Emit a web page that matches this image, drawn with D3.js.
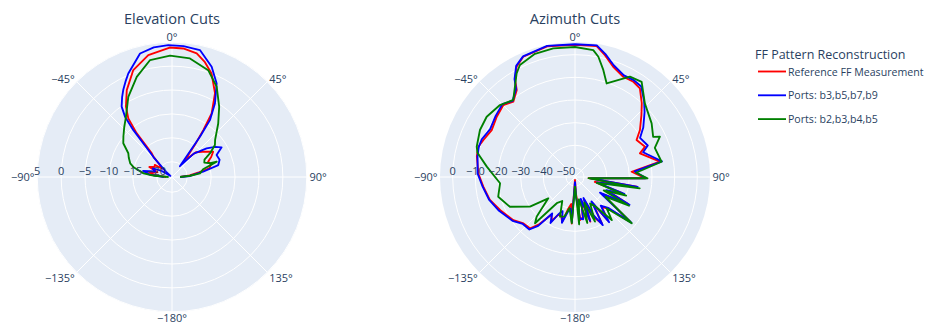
<!DOCTYPE html>
<html>
<head>
<meta charset="utf-8">
<script src="https://cdn.jsdelivr.net/npm/d3@7"></script>
<style>
  html, body { margin: 0; padding: 0; background: #fff; }
  svg { display: block; font-family: "Open Sans", verdana, arial, sans-serif; }
</style>
</head>
<body>
<svg id="chart" width="925" height="327"></svg>
<script>
// ---- series meta ----
const seriesNames  = ["Reference FF Measurement", "Ports: b3,b5,b7,b9", "Ports: b2,b3,b4,b5"];
const seriesColors = ["red", "blue", "green"];
const legendTitle  = "FF Pattern Reconstruction";

// ---- elevation cut, [theta deg, gain dB] ----
const elevReference = [
  [-90,-22.0],[-84,-19.5],[-78,-18.3],[-72,-20.0],[-66,-18.0],[-60,-19.0],[-55,-18.8],[-50,-20.5],
  [-45,-19.5],[-42.5,-17.5],[-40.6,-16.7],[-38.9,-11.4],[-36.7,-7.9],[-33.2,-5.6],[-27.5,-2.7],
  [-19.9,0.6],[-11,2.8],[-1,3.9],[5,3.8],[11.3,3.2],[16,1.8],[20.9,0],[27.2,-3.5],[31.9,-7.5],
  [33.7,-11.4],[35.5,-15],[37.4,-18.7],[44,-16.0],[52.5,-14.5],[58.5,-13.1],[63,-14],[67,-15],
  [72,-14.6],[77,-15.2],[80,-17.5],[85,-19.5],[90,-21.5]
];
const elevPortsA = [
  [-90,-21.5],[-84,-18.5],[-78,-17.0],[-72,-19.5],[-66,-18.8],[-60,-20.5],[-54,-22.8],[-48,-21.5],
  [-45,-20.0],[-43,-17.5],[-41.3,-15.7],[-39.5,-10.5],[-37.9,-7.2],[-35.6,-5.1],[-32,-3.5],
  [-29.2,-2.3],[-26,-1.0],[-22.9,0.3],[-18,2.0],[-14.5,3.5],[-8,4.2],[-1.6,4.4],[5,4.3],[12.4,4.0],
  [19.8,1.3],[25.5,-1.5],[30.3,-5.4],[33.7,-8.9],[34.8,-12.9],[36,-20.4],[43,-16.5],[50.4,-13.8],
  [55,-12.2],[59.1,-11.1],[63.8,-12.8],[70,-12.6],[75.5,-13.2],[80.4,-16.6],[86.8,-19.4],[90,-21.5]
];
const elevPortsB = [
  [-90,-22.5],[-86,-19.5],[-82.7,-17.2],[-76,-15],[-71.9,-14],[-66,-13.3],[-61.5,-12.8],[-55.3,-10.8],
  [-50.4,-10],[-44,-8.8],[-37.3,-7.3],[-28.6,-4.1],[-19.4,-1],[-10.6,1.7],[-0.9,2.2],[8.6,1.9],
  [18.7,0.4],[26.3,-2.1],[33.9,-5.5],[40.8,-8.4],[49.3,-11.3],[53.3,-12],[58,-13.8],[62,-15.5],
  [66,-15.8],[70.2,-14.7],[71.1,-13.3],[76,-16.5],[82.5,-17.3],[86,-19.4],[90,-21.5]
];

// ---- azimuth cut, [theta deg, gain dB] ----
const azimReference = [
  [-180,-53],[-176,-33.4],[-172,-42],[-168,-39.7],[-164,-33.4],[-160,-36],[-156,-35.7],[-152,-32],
  [-148,-34.5],[-143,-28],[-139,-23.9],[-132,-23.4],[-125,-20.8],[-114,-17.9],[-105,-15.1],[-96,-13.3],
  [-88,-11.3],[-78,-9.7],[-72.6,-9.3],[-68,-10.4],[-60.6,-11.8],[-52.4,-10.4],[-44.9,-9.2],[-39.3,-11],
  [-33.8,-7.8],[-31.7,-3.7],[-27.9,1.1],[-23.3,3.8],[-12,5.0],[0,4.3],[9.4,4.6],[13.8,1.4],[19.1,-2.5],
  [25.7,-4.9],[31.5,-4.7],[36.2,-5.5],[42.2,-10.1],[47,-13.9],[54.1,-18.6],[59,-22.3],[66.6,-20.3],
  [70,-23.5],[79.8,-15.9],[84.7,-28.9],[91,-23],[95,-48],[99,-26.5],[104,-45],[109,-32],[113,-38],
  [117,-27.7],[122,-40],[129,-22.7],[133,-32.8],[138,-36.4],[143,-30],[146,-39.9],[150,-30.3],
  [154,-33.7],[158,-43],[161,-33.2],[165,-43],[169,-36],[173,-34.9],[177,-47],[180,-53]
];
const azimPortsA = [
  [-180,-52],[-176,-34],[-172,-40],[-168,-38],[-164,-33],[-160,-38],[-156,-36],[-152,-31],
  [-148,-35],[-143,-27],[-139,-23.3],[-132,-23.0],[-125,-20.3],[-114,-17.3],[-105,-14.8],[-96,-13.0],
  [-88,-11.0],[-78,-10.0],[-72.6,-9.5],[-68,-9.6],[-60.6,-11.0],[-52.4,-9.8],[-44.9,-8.6],[-39.3,-10.5],
  [-33.8,-7.2],[-31.7,-3.2],[-27.9,1.5],[-23.3,4.0],[-12,5.2],[0,4.6],[9.4,4.9],[13.8,2.0],[19.1,-1.8],
  [25.7,-4.2],[31.5,-4.0],[36.2,-4.5],[42.2,-8.6],[47,-12.0],[54.1,-16.8],[59,-20.5],[66.6,-19.0],
  [70,-22.0],[79.8,-15.0],[84.7,-27.5],[91,-22.5],[95,-47],[99,-26],[104,-44],[109,-31],[113,-39],
  [117,-27],[122,-41],[129,-22],[133,-34],[138,-37],[143,-29],[146,-41],[150,-29.5],[154,-35],
  [158,-44],[161,-33.5],[165,-44],[169,-35],[173,-35.5],[177,-45],[180,-52]
];
const azimPortsB = [
  [-180,-50],[-176,-33.6],[-170,-40],[-165,-36],[-159.3,-35.3],[-152,-42],[-145.2,-39.9],[-139.2,-27],
  [-136,-29.6],[-128.6,-38.9],[-123.4,-30.2],[-114.6,-22.4],[-104.4,-19],[-94.8,-20.8],[-83.3,-14.8],
  [-76,-9.6],[-72.9,-8.6],[-63.7,-7.2],[-55.7,-6.8],[-46.2,-8.1],[-38.7,-10.4],[-33,-5.5],[-29.4,-1.5],
  [-26.2,1.1],[-18,3.2],[-9.6,3.6],[0,3.4],[8.2,2.6],[11,0.1],[14.8,-5.1],[18.7,-10.4],[28.7,-3.5],
  [35,-2.7],[43.5,-9.2],[55,-12.7],[62.8,-15.2],[64.6,-12.5],[70,-16.5],[80,-15.2],[86,-27],[91,-22],
  [95,-48],[100,-25],[105,-44],[110,-30],[115,-40],[118,-27],[123,-38],[129.2,-21.7],[134.6,-34.4],
  [139.5,-29],[145,-38],[150.3,-40.6],[155.9,-32.4],[160,-42],[165,-33],[170,-44],[175,-33],[180,-50]
];

// ---- axes ----
const elevRadialRange = [-23.2, 5.05];
const azimRadialRange = [-54, 5.6];
const elevRadialTicks = [-20, -15, -10, -5, 0, 5];
const azimRadialTicks = [-50, -40, -30, -20, -10, 0];
const angularTicks    = [0, 45, 90, 135, 180, 225, 270, 315];
const angularLabels   = ["0°", "45°", "90°", "135°", "−180°", "−135°", "−90°", "−45°"];

const textColor = "#2a3f5f";
const svg = d3.select("#chart");

function fmt(v) { return v < 0 ? "−" + Math.abs(v) : String(v); }

function drawPolar(opts) {
  const { cx, cy, R, range, ticks, title, traces } = opts;
  const g = svg.append("g").attr("transform", `translate(${cx},${cy})`);
  const r = d3.scaleLinear().domain(range).range([0, R]);
  const rad = a => a * Math.PI / 180;
  const fs = 11;

  g.append("circle").attr("r", R).attr("fill", "#E5ECF6");

  // radial grid circles
  g.selectAll("circle.grid").data(ticks.filter(t => r(t) > 0 && r(t) <= R)).join("circle")
    .attr("class", "grid").attr("r", d => r(d))
    .attr("fill", "none").attr("stroke", "#fff").attr("stroke-width", 1);

  // angular grid lines
  g.selectAll("line.spoke").data(angularTicks).join("line")
    .attr("class", "spoke")
    .attr("x1", 0).attr("y1", 0)
    .attr("x2", d => R * Math.sin(rad(d)))
    .attr("y2", d => -R * Math.cos(rad(d)))
    .attr("stroke", "#fff").attr("stroke-width", 1);

  // angular tick labels just outside the rim
  g.selectAll("text.ang").data(angularTicks).join("text")
    .attr("class", "ang")
    .attr("x", d => (R + 2.5) * Math.sin(rad(d)))
    .attr("y", d => {
      const c = Math.cos(rad(d));
      const ff = c > 0 ? 0.2 : 1;
      return -c * (R - 1 + fs * ff) + Math.abs(Math.sin(rad(d))) * fs * 0.35;
    })
    .attr("text-anchor", d => {
      const s = Math.sin(rad(d));
      return Math.abs(s) < 0.1 ? "middle" : (s > 0 ? "start" : "end");
    })
    .attr("font-size", fs).attr("fill", textColor)
    .text((d, i) => angularLabels[i]);

  // traces
  const line = d3.lineRadial()
    .angle(d => rad(d[0]))
    .radius(d => r(d[1]))
    .curve(d3.curveLinear);
  traces.forEach((tr, i) => {
    g.append("path").datum(tr)
      .attr("d", line)
      .attr("fill", "none")
      .attr("stroke", seriesColors[i])
      .attr("stroke-width", 1.85)
      .attr("stroke-linejoin", "round");
  });

  // radial tick labels along the left-hand radius
  g.selectAll("text.rad").data(ticks).join("text")
    .attr("class", "rad")
    .attr("x", d => -r(d))
    .attr("y", -2)
    .attr("text-anchor", "middle")
    .attr("font-size", fs).attr("fill", textColor)
    .text(d => fmt(d));

  // subplot title
  svg.append("text")
    .attr("x", cx).attr("y", 24)
    .attr("text-anchor", "middle")
    .attr("font-size", 14.6).attr("fill", textColor)
    .text(title);
}

drawPolar({
  cx: 172, cy: 177, R: 135, range: elevRadialRange, ticks: elevRadialTicks,
  title: "Elevation Cuts", traces: [elevReference, elevPortsA, elevPortsB]
});
drawPolar({
  cx: 575, cy: 177, R: 135, range: azimRadialRange, ticks: azimRadialTicks,
  title: "Azimuth Cuts", traces: [azimReference, azimPortsA, azimPortsB]
});

// ---- legend ----
const lg = svg.append("g").attr("transform", "translate(755,0)");
lg.append("text").attr("x", 0).attr("y", 59)
  .attr("font-size", 12.5).attr("fill", textColor).text(legendTitle);
seriesNames.forEach((name, i) => {
  const y = 71.5 + i * 23.8;
  lg.append("line").attr("x1", 3).attr("x2", 31).attr("y1", y).attr("y2", y)
    .attr("stroke", seriesColors[i]).attr("stroke-width", 1.85);
  lg.append("text").attr("x", 33).attr("y", y + 4)
    .attr("font-size", 10.6).attr("fill", textColor).text(name);
});
</script>
</body>
</html>
